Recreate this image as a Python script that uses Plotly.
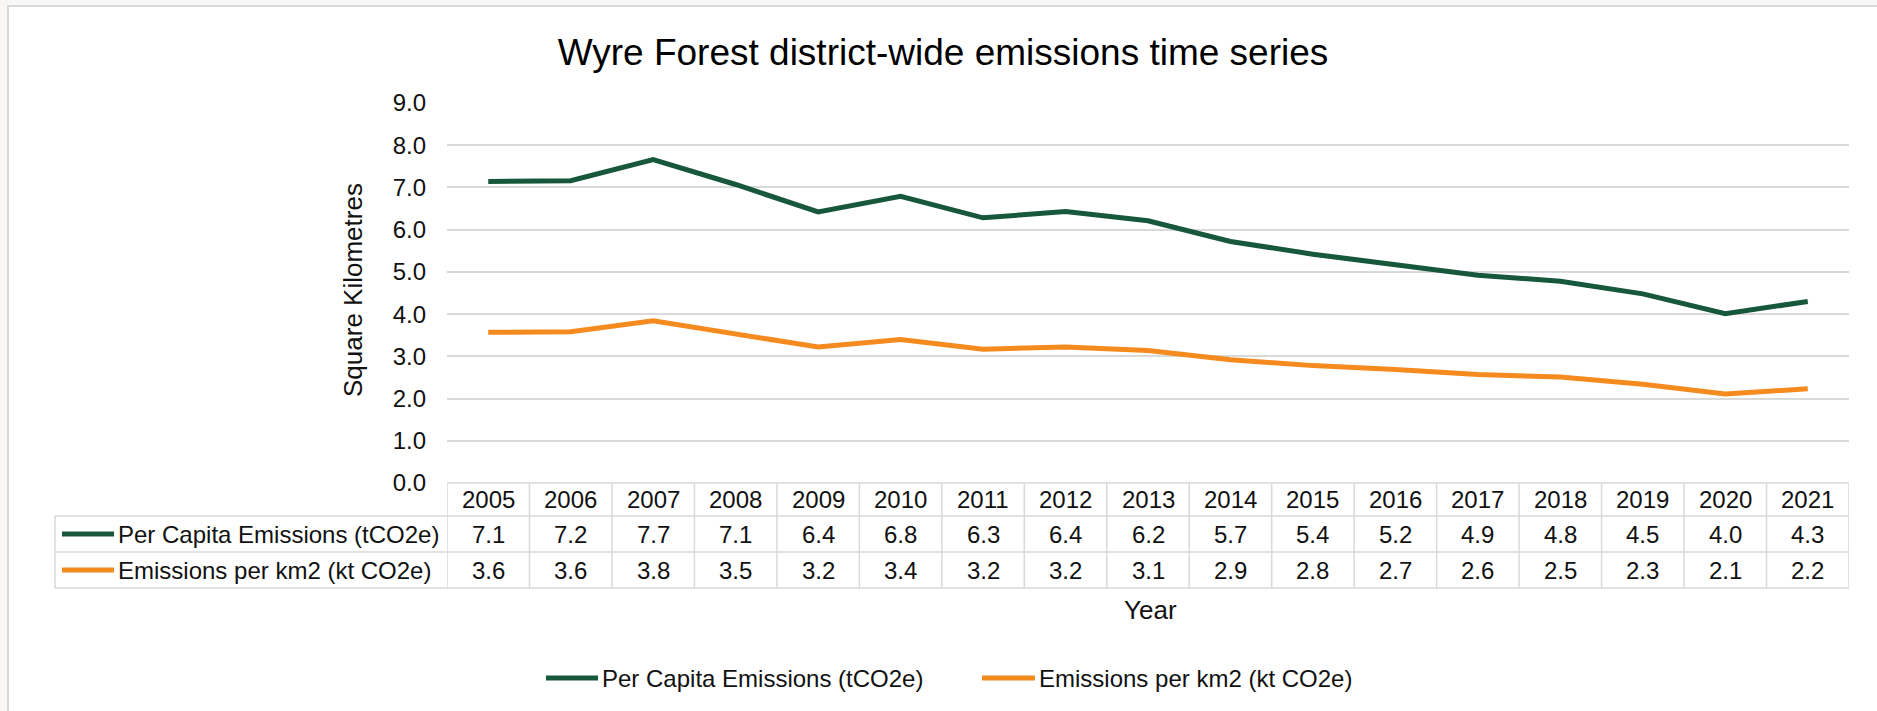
import plotly.graph_objects as go

# ---- data ----
years = ["2005", "2006", "2007", "2008", "2009", "2010", "2011", "2012", "2013",
         "2014", "2015", "2016", "2017", "2018", "2019", "2020", "2021"]
per_capita = [7.14, 7.16, 7.66, 7.07, 6.42, 6.79, 6.28, 6.43, 6.21,
              5.72, 5.42, 5.16, 4.92, 4.78, 4.48, 4.01, 4.30]
per_km2 = [3.57, 3.58, 3.84, 3.53, 3.22, 3.40, 3.17, 3.22, 3.14,
           2.92, 2.78, 2.69, 2.57, 2.51, 2.34, 2.11, 2.23]
series_names = ["Per Capita Emissions (tCO2e)", "Emissions per km2 (kt CO2e)"]
series_colors = ["#17573c", "#f58a1f"]
y_ticks = [0, 1, 2, 3, 4, 5, 6, 7, 8, 9]
title_text = "Wyre Forest district-wide emissions time series"
y_title = "Square Kilometres"
x_title = "Year"

# ---- geometry (pixels) ----
W, H = 1877, 711
L, R, T, B = 447, 1849, 103, 483          # plot area
PW, PH = R - L, B - T
FONT = "Liberation Sans, Arial, sans-serif"
TXT = "#111111"
GRID = "#d9d9d9"


def px_x(p):
    return (p - L) / PW


def px_y(p):
    return (B - p) / PH


series = [per_capita, per_km2]
xs = list(range(len(years)))

fig = go.Figure()
for name, vals, col in zip(series_names, series, series_colors):
    fig.add_trace(go.Scatter(
        x=xs, y=vals, mode="lines", name=name,
        line=dict(color=col, width=5, shape="linear"),
        showlegend=False, hoverinfo="x+y+name"))

shapes = []
annotations = []

# outer frame
shapes.append(dict(type="rect", xref="paper", yref="paper", layer="below",
                   x0=px_x(8), x1=px_x(1900), y0=px_y(730), y1=px_y(6),
                   fillcolor="white", line=dict(color="#d9d9d9", width=2)))

# data table geometry
row_top, row_h1, row_h2, row_bot = 483, 516, 552, 588
tbl_left = 55
line_style = dict(color=GRID, width=1.5)
# horizontal lines
for yy, x0p in [(row_top, L), (row_h1, tbl_left), (row_h2, tbl_left), (row_bot, tbl_left)]:
    shapes.append(dict(type="line", xref="paper", yref="paper",
                       x0=px_x(x0p), x1=1, y0=px_y(yy), y1=px_y(yy), line=line_style))
# vertical lines at category boundaries
for k in range(len(years) + 1):
    shapes.append(dict(type="line", xref="x", yref="paper",
                       x0=k - 0.5, x1=k - 0.5, y0=px_y(row_top), y1=px_y(row_bot),
                       line=line_style))
shapes.append(dict(type="line", xref="paper", yref="paper",
                   x0=px_x(tbl_left), x1=px_x(tbl_left), y0=px_y(row_h1), y1=px_y(row_bot),
                   line=line_style))

cell_font = dict(family=FONT, size=24, color=TXT)
# header row (years)
for i, yr in enumerate(years):
    annotations.append(dict(x=i, y=px_y((row_top + row_h1) / 2), xref="x", yref="paper",
                            text=yr, showarrow=False, font=cell_font,
                            xanchor="center", yanchor="middle"))
# value rows
row_centers = [(row_h1 + row_h2) / 2, (row_h2 + row_bot) / 2]
for vals, name, col, yc in zip(series, series_names, series_colors, row_centers):
    for i, v in enumerate(vals):
        annotations.append(dict(x=i, y=px_y(yc), xref="x", yref="paper",
                                text=f"{v:.1f}", showarrow=False, font=cell_font,
                                xanchor="center", yanchor="middle"))
    shapes.append(dict(type="line", xref="paper", yref="paper",
                       x0=px_x(62), x1=px_x(114), y0=px_y(yc), y1=px_y(yc),
                       line=dict(color=col, width=5)))
    annotations.append(dict(x=px_x(116), y=px_y(yc), xref="paper", yref="paper",
                            text=name, showarrow=False, font=cell_font,
                            xanchor="left", yanchor="middle"))

# axis titles
annotations.append(dict(x=px_x(1150), y=px_y(610), xref="paper", yref="paper",
                        text=x_title, showarrow=False,
                        font=dict(family=FONT, size=26, color=TXT),
                        xanchor="center", yanchor="middle"))
annotations.append(dict(x=px_x(353), y=px_y(290), xref="paper", yref="paper",
                        text=y_title, showarrow=False, textangle=-90,
                        font=dict(family=FONT, size=26, color=TXT),
                        xanchor="center", yanchor="middle"))

# bottom legend
leg_y = 678
for (lx0, lx1, tx), name, col in zip([(546, 598, 600), (982, 1035, 1037)],
                                      series_names, series_colors):
    shapes.append(dict(type="line", xref="paper", yref="paper",
                       x0=px_x(lx0), x1=px_x(lx1), y0=px_y(leg_y), y1=px_y(leg_y),
                       line=dict(color=col, width=5)))
    annotations.append(dict(x=px_x(tx), y=px_y(leg_y), xref="paper", yref="paper",
                            text=name, showarrow=False, font=cell_font,
                            xanchor="left", yanchor="middle"))

fig.update_layout(
    width=W, height=H,
    margin=dict(l=L, r=W - R, t=T, b=H - B, pad=0),
    paper_bgcolor="#f8f7f5",
    plot_bgcolor="white",
    title=dict(text=title_text, x=943 / W, xanchor="center",
               y=1 - 52 / H, yanchor="middle",
               font=dict(family=FONT, size=37, color="#000000")),
    xaxis=dict(range=[-0.5, len(years) - 0.5], showticklabels=False, showgrid=False,
               zeroline=False, showline=False, fixedrange=True),
    yaxis=dict(range=[0, 9], tickvals=y_ticks, tickformat=".1f",
               showgrid=True, gridcolor=GRID, gridwidth=1.5, zeroline=False,
               showline=False, ticks="", ticklabelstandoff=20,
               tickfont=dict(family=FONT, size=24, color=TXT), fixedrange=True),
    shapes=shapes,
    annotations=annotations,
    showlegend=False,
)

fig.write_html("out.html",
               config={"displayModeBar": False},
               post_script="document.body.style.margin='0';document.body.style.overflow='hidden';")
